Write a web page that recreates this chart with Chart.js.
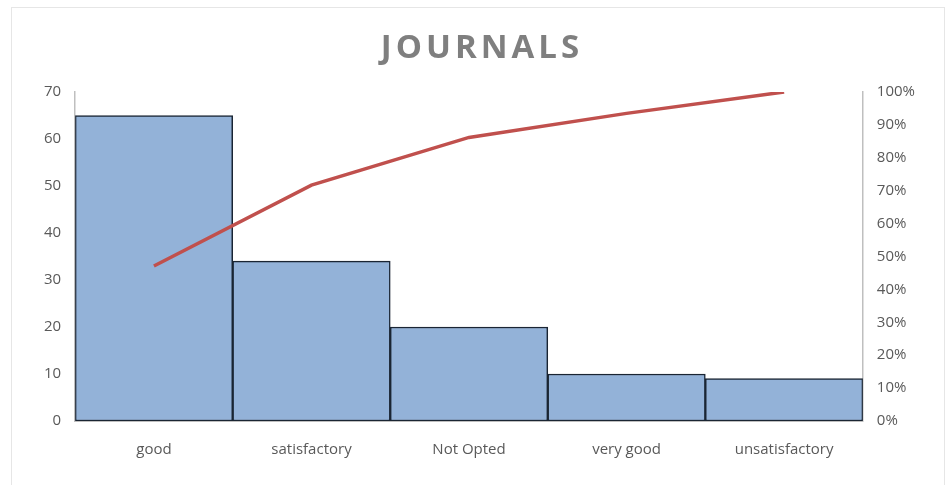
<!DOCTYPE html>
<html>
<head>
<meta charset="utf-8">
<script src="https://cdn.jsdelivr.net/npm/chart.js@4.4.1/dist/chart.umd.min.js"></script>
<style>
  html, body { margin: 0; padding: 0; background: #fff; }
  #wrap { position: absolute; left: 0; top: 0; width: 949px; height: 485px; }
  #frame { position: absolute; left: 11px; top: 7px; width: 934px; height: 490px; border: 1px solid #e6e6e6; box-sizing: border-box; }
  canvas { position: absolute; left: 0; top: 0; }
</style>
</head>
<body>
<div id="wrap">
  <div id="frame"></div>
  <canvas id="c" width="949" height="485"></canvas>
</div>
<script>
const titleText = "JOURNALS";
const categories = ["good", "satisfactory", "Not Opted", "very good", "unsatisfactory"];
const counts = [65, 34, 20, 10, 9];
const cumulativePct = [0.471, 0.717, 0.862, 0.935, 1.0];
const leftTicks = [0, 10, 20, 30, 40, 50, 60, 70];
const rightTicks = [0, 0.1, 0.2, 0.3, 0.4, 0.5, 0.6, 0.7, 0.8, 0.9, 1.0];

const tickColor = '#595959';
const tickFont = { family: 'Open Sans', size: 15 };

function barGradient(context) {
  const chart = context.chart;
  const el = context.element;
  if (!el || el.x === undefined || !el.width) return '#93b2d8';
  const x0 = el.x - el.width / 2, x1 = el.x + el.width / 2;
  const g = chart.ctx.createLinearGradient(x0, 0, x1, 0);
  g.addColorStop(0, '#7f9fca');
  g.addColorStop(0.12, '#93b1d8');
  g.addColorStop(0.88, '#93b1d8');
  g.addColorStop(1, '#809fca');
  return g;
}

const spacedTitle = {
  id: 'spacedTitle',
  afterDraw(chart) {
    const ctx = chart.ctx;
    ctx.save();
    ctx.font = 'bold 33px "Open Sans"';
    ctx.fillStyle = '#7f7f7f';
    if ('letterSpacing' in ctx) ctx.letterSpacing = '4px';
    ctx.textAlign = 'center';
    ctx.textBaseline = 'middle';
    ctx.fillText(titleText, 482, 49);
    ctx.restore();
  }
};

new Chart(document.getElementById('c'), {
  data: {
    labels: categories,
    datasets: [
      {
        type: 'line',
        data: cumulativePct,
        yAxisID: 'yr',
        borderColor: '#c0504d',
        borderWidth: 3.5,
        pointRadius: 0,
        tension: 0,
        order: 0
      },
      {
        type: 'bar',
        data: counts,
        yAxisID: 'y',
        backgroundColor: barGradient,
        borderColor: '#1a2533',
        borderWidth: 1.5,
        borderSkipped: false,
        categoryPercentage: 1.0,
        barPercentage: 1.0,
        order: 1
      }
    ]
  },
  plugins: [spacedTitle],
  options: {
    responsive: false,
    animation: false,
    layout: { padding: { top: 92, left: 30, right: 20, bottom: 6 } },
    plugins: {
      legend: { display: false },
      title: { display: false },
      tooltip: { enabled: false }
    },
    scales: {
      x: {
        grid: { display: false, drawTicks: false },
        border: { display: true, color: '#bfbfbf', width: 1 },
        ticks: { color: tickColor, font: tickFont, padding: 20 }
      },
      y: {
        position: 'left',
        min: 0, max: 70,
        afterBuildTicks(axis) { axis.ticks = leftTicks.map(v => ({ value: v })); },
        grid: { display: false, drawTicks: false },
        border: { display: true, color: '#bfbfbf', width: 1.5 },
        ticks: { color: tickColor, font: tickFont, padding: 14 }
      },
      yr: {
        position: 'right',
        min: 0, max: 1,
        afterBuildTicks(axis) { axis.ticks = rightTicks.map(v => ({ value: v })); },
        grid: { display: false, drawTicks: false },
        border: { display: true, color: '#bfbfbf', width: 1.5 },
        ticks: {
          color: tickColor, font: tickFont, padding: 14,
          callback: v => Math.round(v * 100) + '%'
        }
      }
    }
  }
});
</script>
</body>
</html>
